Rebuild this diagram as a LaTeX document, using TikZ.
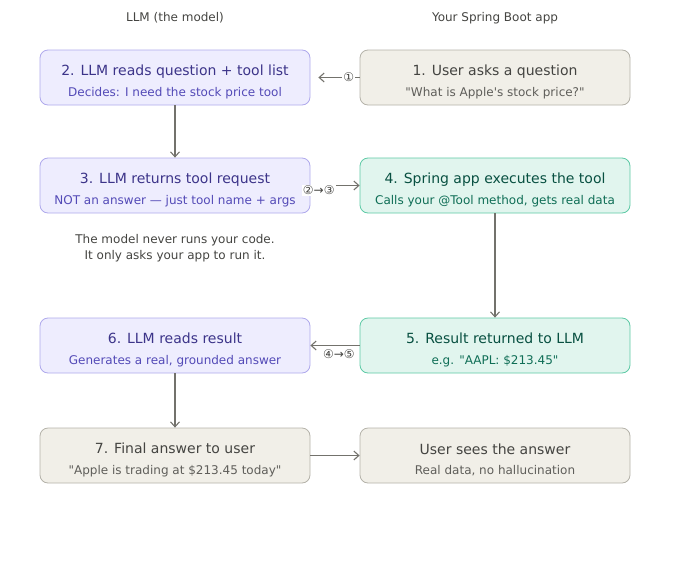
\documentclass[tikz,border=0pt]{standalone}
\usepackage{fontspec}
\setmainfont{DejaVu Sans}[Ligatures=TeXOff]
\usetikzlibrary{arrows.meta, positioning}
\definecolor{llmfill}{HTML}{EEEDFE}
\definecolor{llmdraw}{HTML}{AFA9EC}
\definecolor{llmtext}{HTML}{3C3489}
\definecolor{llmsub}{HTML}{534AB7}
\definecolor{appfill}{HTML}{E1F5EE}
\definecolor{appdraw}{HTML}{5DCAA5}
\definecolor{apptext}{HTML}{085041}
\definecolor{appsub}{HTML}{0F6E56}
\definecolor{userfill}{HTML}{F1EFE8}
\definecolor{userdraw}{HTML}{B4B2A9}
\definecolor{usertext}{HTML}{444441}
\definecolor{usersub}{HTML}{5F5E5A}
\definecolor{arrowgray}{HTML}{73726C}
\newcommand{\boxtitle}[1]{\rule{0pt}{19pt}{\fontsize{14}{17}\selectfont #1}}

\begin{document}
\begin{tikzpicture}[
    x=1pt, y=-1pt,
    %% Styles
    box/.style={
      rectangle, rounded corners=8pt,
      minimum width=270pt, minimum height=55pt,
      inner sep=0pt, align=center, line width=0.8pt,
      font=\fontsize{12}{20.5}\selectfont
    },
    llmBox/.style={box, fill=llmfill, draw=llmdraw, text=llmtext},
    appBox/.style={box, fill=appfill, draw=appdraw, text=apptext},
    userBox/.style={box, fill=userfill, draw=userdraw, text=usertext},
    arrow/.style={-{Straight Barb[length=5pt, width=9pt]}, line width=1.1pt, draw=arrowgray},
    lbl/.style={font=\fontsize{12}{14}\selectfont, text=usertext, inner sep=1pt},
    head/.style={font=\fontsize{12}{14}\selectfont, text=usertext}
  ]
  \useasboundingbox (0,0) rectangle (680,560);

  %% ── Column heads ──────────────────────────────────────
  \node[head] (llmhead) at (175,18) {LLM (the model)};
  \node[head] (apphead) at (495,18) {Your Spring Boot app};

  %% ── Row 1 (y = 77.5) ──────────────────────────────────
  \node[userBox] (ask) at (495,77.5)
    {\boxtitle{1. User asks a question}\\
     {\color{usersub}"What is Apple's stock price?"}};
  \node[llmBox] (reads) at (175,77.5)
    {\boxtitle{2. LLM reads question + tool list}\\
     {\color{llmsub}Decides: I need the stock price tool}};

  %% ── Row 2 (y = 185.5) ─────────────────────────────────
  \node[llmBox] (request) at (175,185.5)
    {\boxtitle{3. LLM returns tool request}\\
     {\color{llmsub}NOT an answer — just tool name + args}};
  \node[appBox] (execute) at (495,185.5)
    {\boxtitle{4. Spring app executes the tool}\\
     {\color{appsub}Calls your @Tool method, gets real data}};

  %% ── Note ──────────────────────────────────────────────
  \node[head, align=center, font=\fontsize{12}{16}\selectfont] (note) at (175,248)
    {The model never runs your code.\\It only asks your app to run it.};

  %% ── Row 3 (y = 345.5) ─────────────────────────────────
  \node[appBox] (result) at (495,345.5)
    {\boxtitle{5. Result returned to LLM}\\
     {\color{appsub}e.g. "AAPL: \$213.45"}};
  \node[llmBox] (grounded) at (175,345.5)
    {\boxtitle{6. LLM reads result}\\
     {\color{llmsub}Generates a real, grounded answer}};

  %% ── Row 4 (y = 455.5) ─────────────────────────────────
  \node[userBox] (final) at (175,455.5)
    {\boxtitle{7. Final answer to user}\\
     {\color{usersub}"Apple is trading at \$213.45 today"}};
  \node[userBox] (sees) at (495,455.5)
    {\boxtitle{User sees the answer}\\
     {\color{usersub}Real data, no hallucination}};

  %% ── Arrows ────────────────────────────────────────────
  \draw[arrow, shorten >=8pt] (ask.west) -- (reads.east)
    node[lbl, pos=0.22, fill=white] {①};
  \draw[arrow] (reads.south) -- (request.north);
  \draw[arrow] (request.east) -- (execute.west)
    node[lbl, pos=0.17, yshift=-5pt, fill=white] {②→③};
  \draw[arrow] (execute.south) -- (result.north);
  \draw[arrow] (result.west) -- (grounded.east)
    node[lbl, pos=0.42, below=3pt] {④→⑤};
  \draw[arrow] (grounded.south) -- (final.north);
  \draw[arrow] (final.east) -- (sees.west);

\end{tikzpicture}
\end{document}
